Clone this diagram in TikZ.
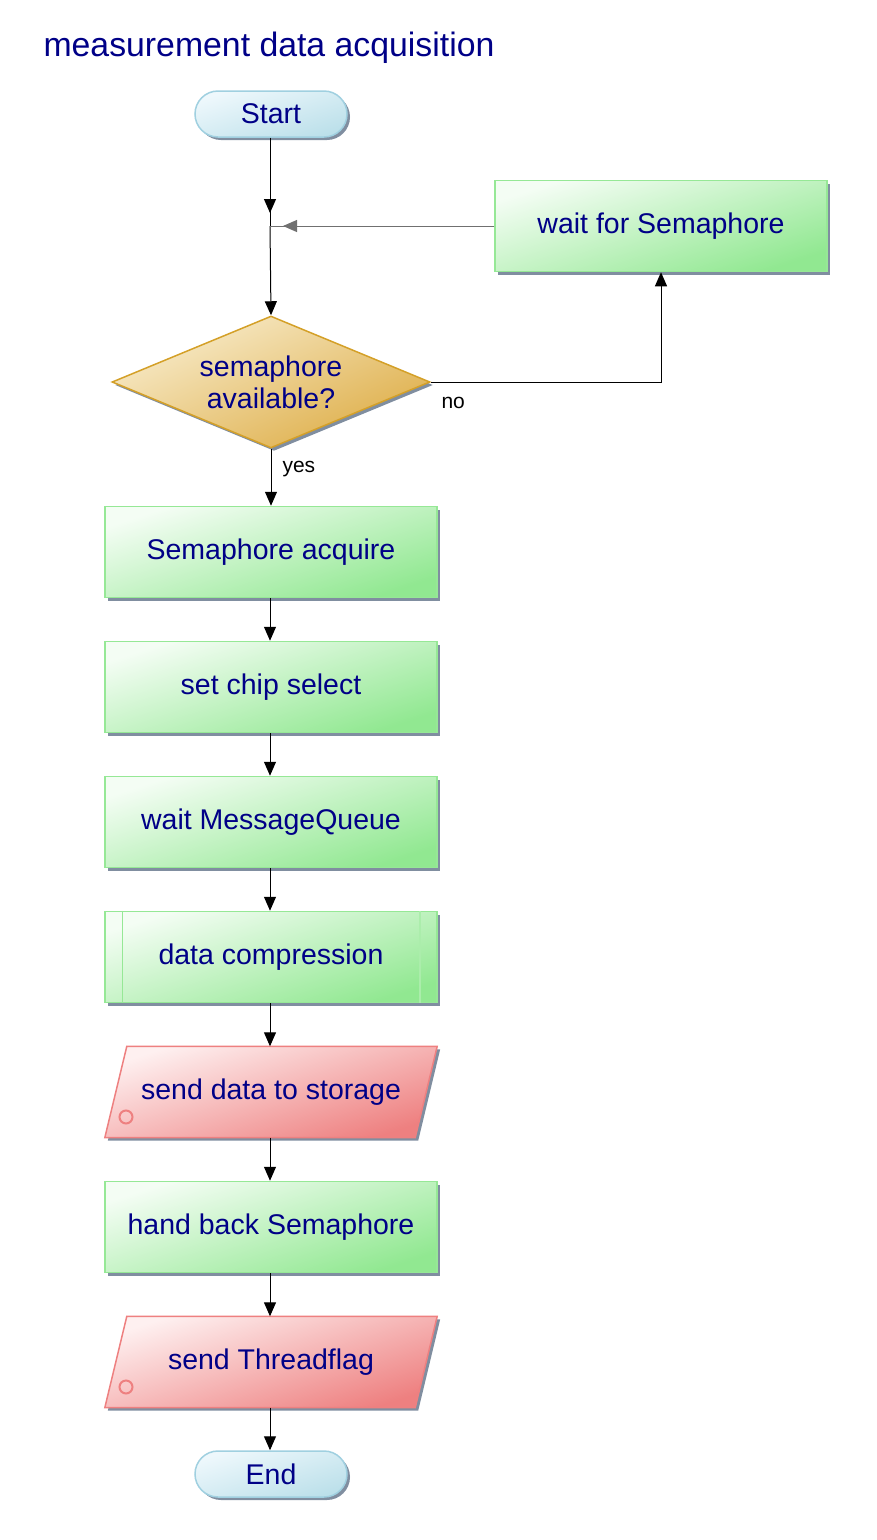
\documentclass[tikz,border=0pt]{standalone}
\usepackage{fontspec}
\setmainfont{Liberation Sans}
\usetikzlibrary{arrows.meta,shapes.geometric,shadows,backgrounds}
\definecolor{navy}{RGB}{0,0,135}
\definecolor{gborder}{RGB}{150,232,150}
\definecolor{gtop}{RGB}{244,253,244}
\definecolor{gbot}{RGB}{145,232,145}
\definecolor{tborder}{RGB}{160,208,224}
\definecolor{ttop}{RGB}{238,248,252}
\definecolor{tbot}{RGB}{188,224,234}
\definecolor{dborder}{RGB}{212,160,40}
\definecolor{dtop}{RGB}{248,236,204}
\definecolor{dbot}{RGB}{222,174,72}
\definecolor{rborder}{RGB}{238,128,128}
\definecolor{rtop}{RGB}{254,240,240}
\definecolor{rbot}{RGB}{238,128,128}
\definecolor{shadowc}{RGB}{128,142,160}
\definecolor{linegray}{RGB}{112,112,112}
\tikzset{
  shd/.style={drop shadow={shadow xshift=3pt, shadow yshift=-3pt, fill=shadowc, opacity=1}},
  txt/.style={text=navy, font=\fontsize{28.5}{32}\selectfont, align=center},
  proc/.style={rectangle, inner sep=0pt, minimum width=332pt, minimum height=91pt,
    draw=gborder, line width=1.5pt, top color=gtop, bottom color=gbot, shading angle=18, shd, txt},
  term/.style={rectangle, rounded corners=23pt, inner sep=0pt, minimum width=152pt, minimum height=46pt,
    draw=tborder, line width=1.5pt, top color=ttop, bottom color=tbot, shading angle=18, shd, txt},
  decis/.style={diamond, aspect=2.41, inner sep=0pt, minimum width=318pt, minimum height=132pt,
    draw=dborder, line width=1.5pt, top color=dtop, bottom color=dbot, shading angle=25, shd, txt},
  io/.style={rectangle, inner sep=0pt, minimum width=332pt, minimum height=91pt, txt},
  iobox/.style={draw=rborder, line width=1.5pt, top color=rtop, bottom color=rbot, shading angle=18, shd},
  arr/.style={-{Triangle[length=14pt,width=12pt]}, line width=1pt, black},
  lbl/.style={font=\fontsize{21}{24}\selectfont, text=black},
}
\begin{document}
\begin{tikzpicture}[x=1pt,y=-1pt]
\useasboundingbox (0,0) rectangle (877,1540);
\node[anchor=west, text=navy, font=\fontsize{33.8}{36}\selectfont] (title) at (40,48) {measurement data acquisition};

\node[term] (start) at (271,114) {Start};
\node[proc] (wait) at (661,226) {wait for Semaphore};
\node[decis] (dec) at (271,382) {semaphore\\available?};
\node[proc] (acq) at (271,552) {Semaphore acquire};
\node[proc] (chip) at (271,687) {set chip select};
\node[proc] (mq) at (271,822) {wait MessageQueue};
\node[proc] (comp) at (271,957) {data compression};
\node[io] (store) at (271,1092) {send data to storage};
\node[proc] (hand) at (271,1227) {hand back Semaphore};
\node[io] (flag) at (271,1362) {send Threadflag};
\node[term] (end) at (271,1474) {End};

% parallelogram outlines of the I/O steps
\begin{scope}[on background layer]
\path[iobox] ([xshift=22pt]store.north west) -- (store.north east)
  -- ([xshift=-22pt]store.south east) -- (store.south west) -- cycle;
\path[iobox] ([xshift=22pt]flag.north west) -- (flag.north east)
  -- ([xshift=-22pt]flag.south east) -- (flag.south west) -- cycle;
\end{scope}

% inner lines of predefined process
\draw[gborder, line width=1.5pt] ([xshift=18pt]comp.north west) -- ([xshift=18pt]comp.south west);
\draw[gborder!80!white, line width=1.5pt] ([xshift=-18pt]comp.north east) -- ([xshift=-18pt]comp.south east);
% small circles on I/O shapes
\draw[rborder, line width=2pt] (126,1117) circle (6.5);
\draw[rborder, line width=2pt] (126,1387) circle (6.5);

% connectors
\coordinate (ja) at (270,213);
\coordinate (j) at (270,226);
\coordinate (jb) at (283,226);
\draw[line width=1pt] (start.south -| j) -- (j);
\draw[arr] (start.south -| j) -- (ja);
\draw[arr] (j) -- (dec.north);
\draw[line width=1pt, linegray] (wait.west) -- (j);
\draw[arr, linegray] (wait.west) -- (jb);
\draw[arr] (dec.east) -| (wait.south);
\node[lbl, anchor=west] (nolbl) at (438,403) {no};
\draw[arr] (dec.south) -- (acq.north -| dec.south);
\node[lbl, anchor=west] (yeslbl) at (279,469) {yes};
\draw[arr] (acq.south -| j) -- (chip.north -| j);
\draw[arr] (chip.south -| j) -- (mq.north -| j);
\draw[arr] (mq.south -| j) -- (comp.north -| j);
\draw[arr] (comp.south -| j) -- (store.north -| j);
\draw[arr] (store.south -| j) -- (hand.north -| j);
\draw[arr] (hand.south -| j) -- (flag.north -| j);
\draw[arr] (flag.south -| j) -- (end.north -| j);
\end{tikzpicture}
\end{document}
